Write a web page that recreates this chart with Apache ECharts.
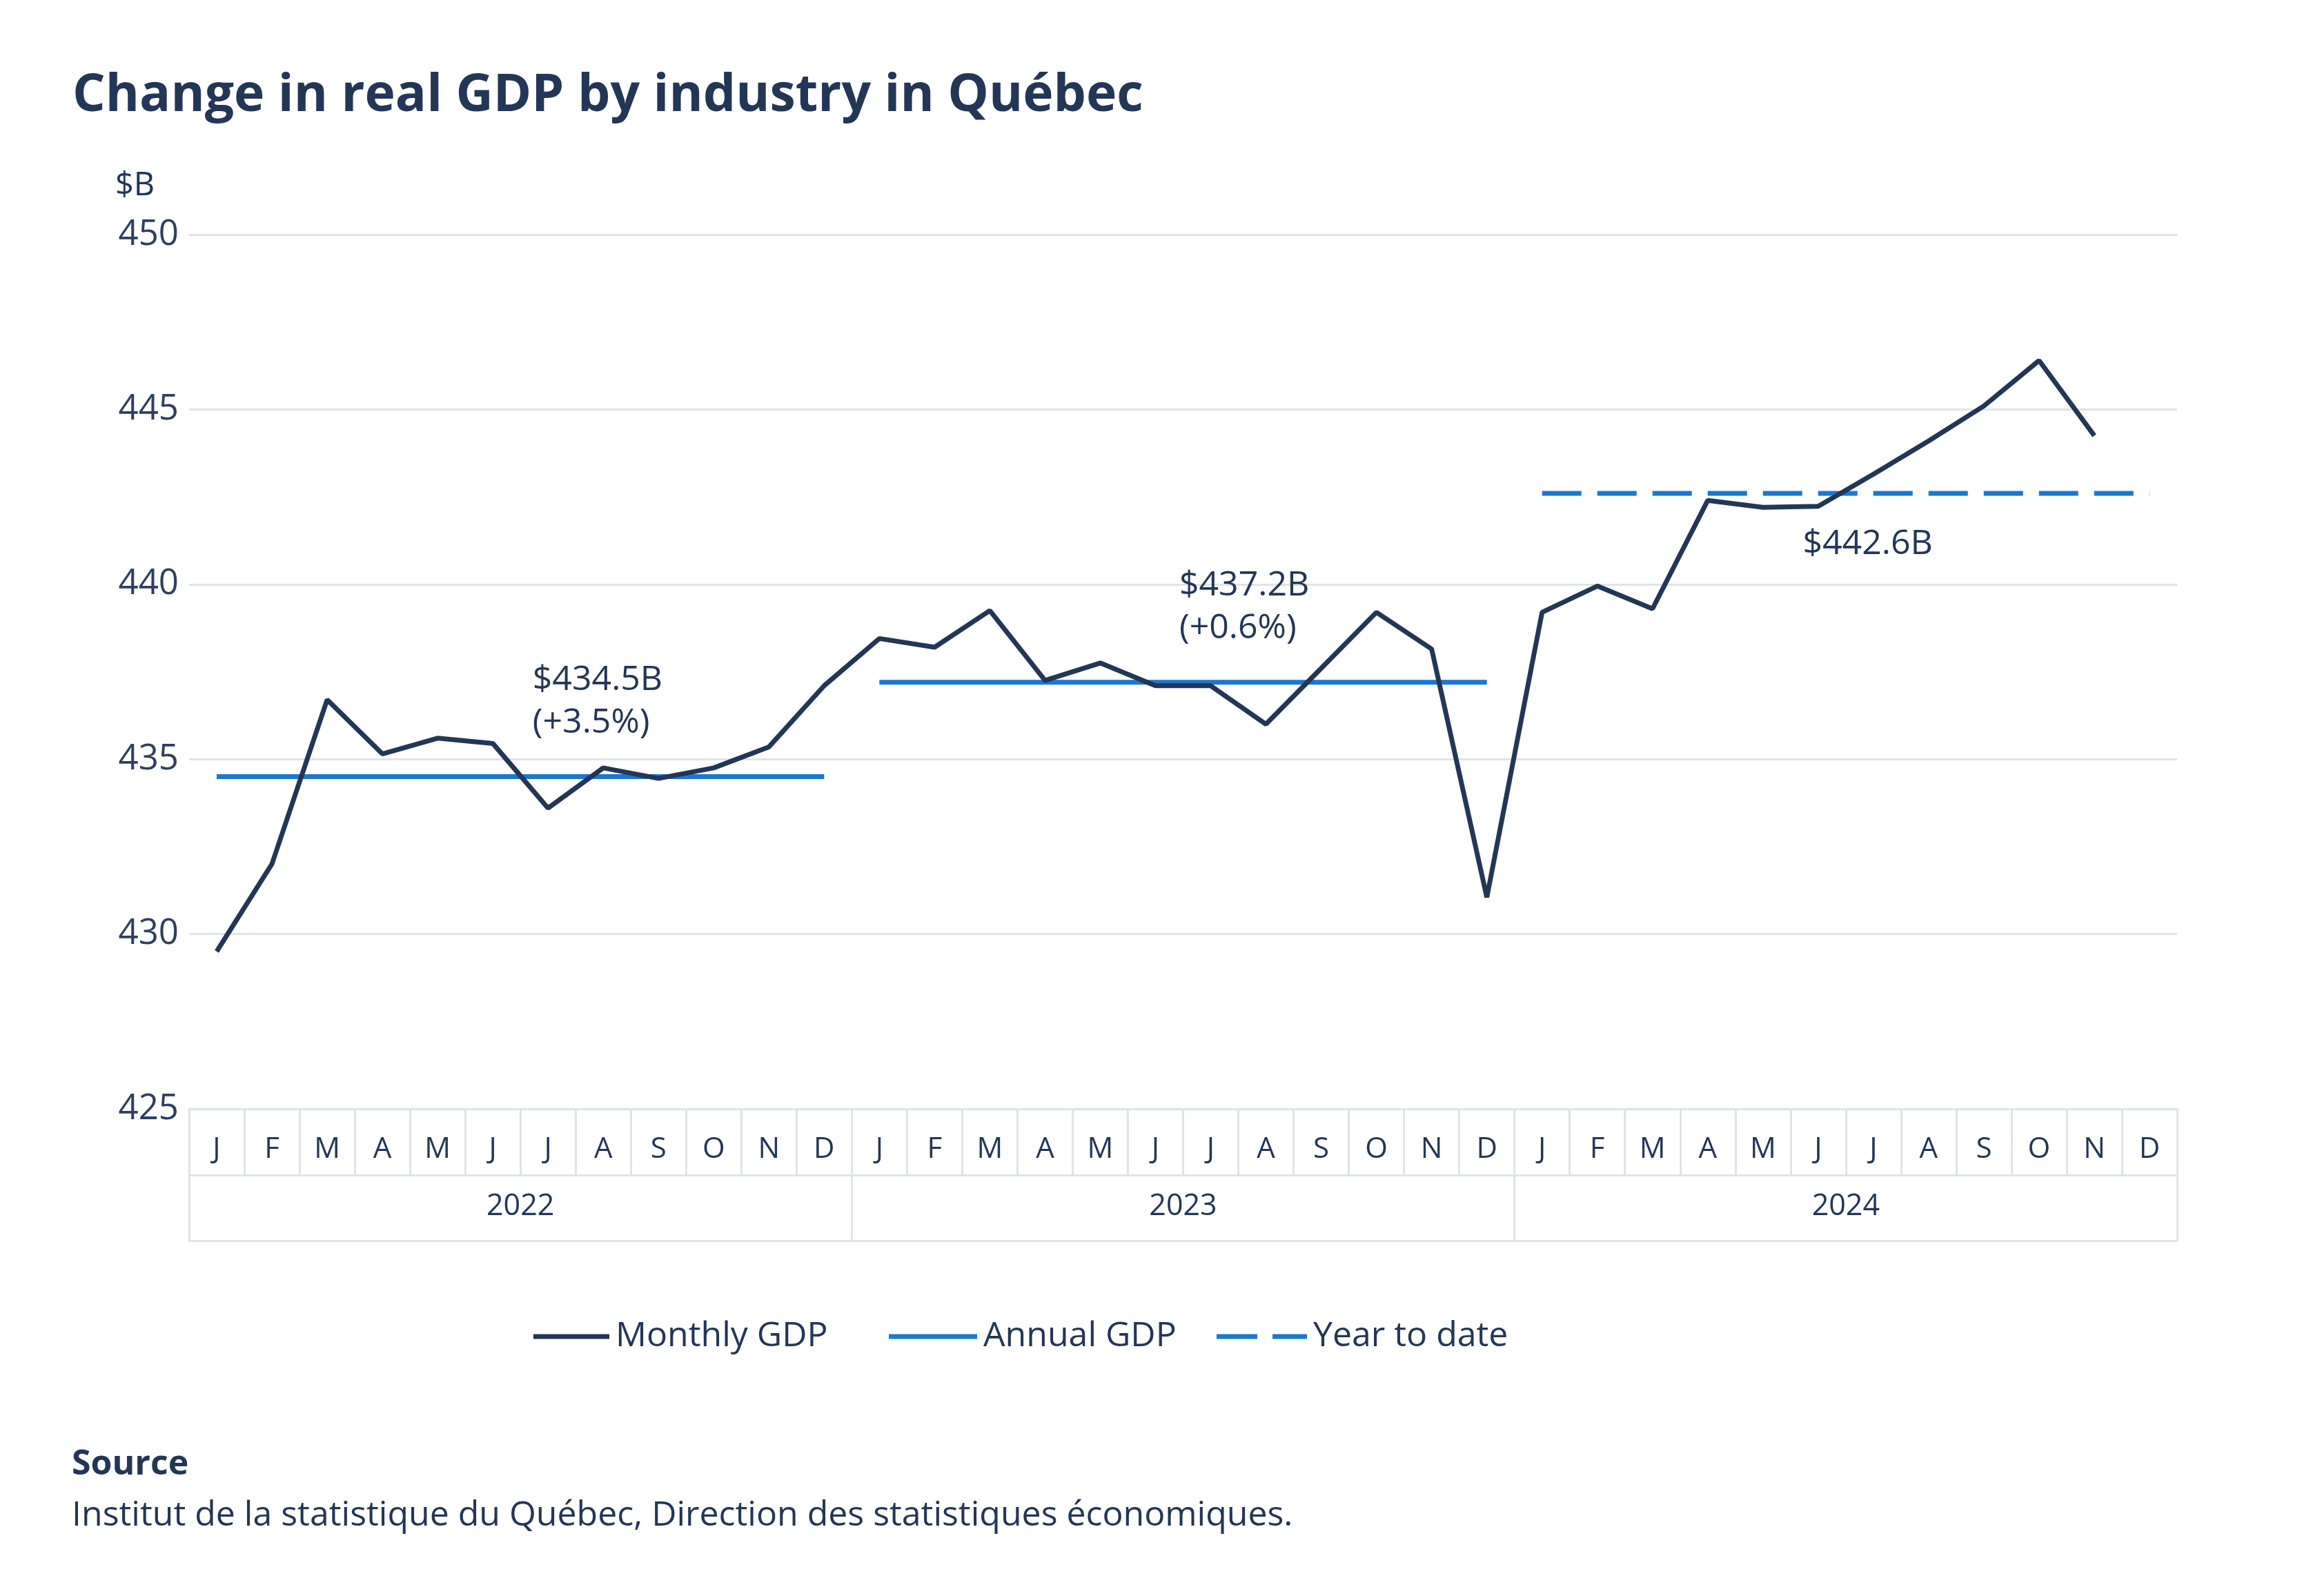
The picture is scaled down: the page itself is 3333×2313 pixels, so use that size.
<!DOCTYPE html>
<html>
<head>
<meta charset="utf-8">
<script src="https://cdn.jsdelivr.net/npm/echarts@6/dist/echarts.min.js"></script>
<style>
html,body{margin:0;padding:0;background:#ffffff;}
#chart{width:3333px;height:2313px;}
</style>
</head>
<body>
<div id="chart"></div>
<script>
// ---- data ----
const months = ['J','F','M','A','M','J','J','A','S','O','N','D'];
const years = ['2022','2023','2024'];
const monthlyGDP = [
  429.5, 432.0, 436.7, 435.15, 435.6, 435.45, 433.6, 434.75, 434.45, 434.75, 435.35, 437.1,
  438.45, 438.2, 439.25, 437.25, 437.75, 437.1, 437.1, 436.0, 437.6, 439.2, 438.15, 431.05,
  439.2, 439.95, 439.3, 442.4, 442.2, 442.23, 443.15, 444.1, 445.1, 446.4, 444.25, null
];
const annualGDP = [434.5, 437.2];
const annualChange = ['+3.5%', '+0.6%'];
const ytdGDP = 442.6;
const yMin = 425, yMax = 450, yStep = 5;
const seriesNames = ['Monthly GDP', 'Annual GDP', 'Year to date'];
const titleText = 'Change in real GDP by industry in Québec';
const unitText = '$B';
const sourceHead = 'Source';
const sourceText = 'Institut de la statistique du Québec, Direction des statistiques économiques.';

// ---- derived ----
const monthCats = [];
years.forEach(y => months.forEach(m => monthCats.push(m)));
function yearSpan(k, v) {
  return monthCats.map((_, i) => (Math.floor(i / 12) === k ? v : null));
}
const fmtB = v => '$' + v.toFixed(1) + 'B';

const navy = '#233656';
const blue = '#1b78cf';
const gridCol = '#e0e3e8';
const font = 'Open Sans';

// annotation anchors (month-index positions along the x axis)
const annotX = [5.72, 17.43, 28.72];

const chart = echarts.init(document.getElementById('chart'), null, {renderer: 'canvas'});

const series = [
  {
    name: seriesNames[0], type: 'line', xAxisIndex: 0, yAxisIndex: 0,
    data: monthlyGDP, symbol: 'none', connectNulls: false,
    lineStyle: {color: navy, width: 7}, itemStyle: {color: navy}, z: 5
  }
];
annualGDP.forEach((v, k) => {
  series.push({
    name: seriesNames[1], type: 'line', xAxisIndex: 0, yAxisIndex: 0,
    data: yearSpan(k, v), symbol: 'none',
    lineStyle: {color: blue, width: 7}, itemStyle: {color: blue}, z: 4
  });
});
series.push({
  name: seriesNames[2], type: 'line', xAxisIndex: 0, yAxisIndex: 0,
  data: yearSpan(2, ytdGDP), symbol: 'none',
  lineStyle: {color: blue, width: 7, type: [57, 23]}, itemStyle: {color: blue}, z: 4
});
// annotation labels
const labelBase = {color: navy, fontFamily: font, fontSize: 50, lineHeight: 62, position: 'top', align: 'left'};
const annotData = [];
annualGDP.forEach((v, k) => {
  annotData.push({
    value: [annotX[k], v],
    label: Object.assign({}, labelBase, {
      show: true, verticalAlign: 'bottom', offset: [0, -42],
      formatter: fmtB(v) + '\n(' + annualChange[k] + ')'
    })
  });
});
annotData.push({
  value: [annotX[2], ytdGDP],
  label: Object.assign({}, labelBase, {
    show: true, verticalAlign: 'top', offset: [0, 48],
    formatter: fmtB(ytdGDP)
  })
});
series.push({
  type: 'scatter', xAxisIndex: 3, yAxisIndex: 0, symbolSize: 0, silent: true,
  itemStyle: {opacity: 1},
  data: annotData, label: labelBase, z: 10
});

function legendBox(name, left, width, icon) {
  return {
    left: left, top: 1907, itemWidth: width, itemHeight: 7, itemGap: 0,
    icon: icon, symbolKeepAspect: false,
    textStyle: {fontFamily: font, fontSize: 50, color: navy, padding: [0, 0, 0, 4]},
    data: [{name: name}]
  };
}

const option = {
  backgroundColor: '#ffffff',
  animation: false,
  textStyle: {fontFamily: font, color: navy},
  title: {
    text: titleText, left: 100, top: 97,
    textStyle: {fontFamily: font, fontWeight: 'bold', fontSize: 75, color: navy}
  },
  grid: {left: 274, right: 178, top: 340, bottom: 706, containLabel: false},
  legend: [
    legendBox(seriesNames[0], 768, 110, 'rect'),
    legendBox(seriesNames[1], 1283, 128, 'rect'),
    legendBox(seriesNames[2], 1758, 131, 'path://M0,0H59V7H0Z M81,0H131V7H81Z')
  ],
  xAxis: [
    {
      type: 'category', data: monthCats, position: 'bottom', boundaryGap: true,
      axisLine: {show: true, lineStyle: {color: gridCol, width: 3}},
      axisTick: {show: true, interval: 0, length: 96, inside: false, lineStyle: {color: gridCol, width: 3}},
      axisLabel: {interval: 0, margin: 38, fontSize: 42, lineHeight: 42, color: navy, fontFamily: font},
      splitLine: {show: false}
    },
    {
      type: 'category', data: years, position: 'bottom', offset: 96, boundaryGap: true,
      axisLine: {show: true, lineStyle: {color: gridCol, width: 3}},
      axisTick: {show: true, interval: 0, length: 95, inside: false, lineStyle: {color: gridCol, width: 3}},
      axisLabel: {interval: 0, margin: 24, fontSize: 43, lineHeight: 43, color: navy, fontFamily: font},
      splitLine: {show: false}
    },
    {
      type: 'category', data: years, position: 'bottom', offset: 191,
      axisLine: {show: true, lineStyle: {color: gridCol, width: 3}},
      axisTick: {show: false}, axisLabel: {show: false}, splitLine: {show: false}
    },
    {
      type: 'value', min: -0.5, max: monthCats.length - 0.5, show: false,
      position: 'bottom', splitLine: {show: false}
    }
  ],
  yAxis: [{
    type: 'value', min: yMin, max: yMax, interval: yStep,
    axisLine: {show: false}, axisTick: {show: false},
    axisLabel: {margin: 15, fontSize: 51, color: '#2e405e', fontFamily: font, align: 'right'},
    splitLine: {show: true, lineStyle: {color: gridCol, width: 3}}
  }],
  graphic: [
    {type: 'text', left: 167, top: 246, style: {text: unitText, font: '47px "Open Sans"', fill: navy}},
    {type: 'text', left: 104, top: 2098, style: {text: sourceHead, font: 'bold 50px "Open Sans"', fill: navy}},
    {type: 'text', left: 104, top: 2172, style: {text: sourceText, font: '50px "Open Sans"', fill: navy}}
  ],
  series: series
};
chart.setOption(option);
</script>
</body>
</html>
